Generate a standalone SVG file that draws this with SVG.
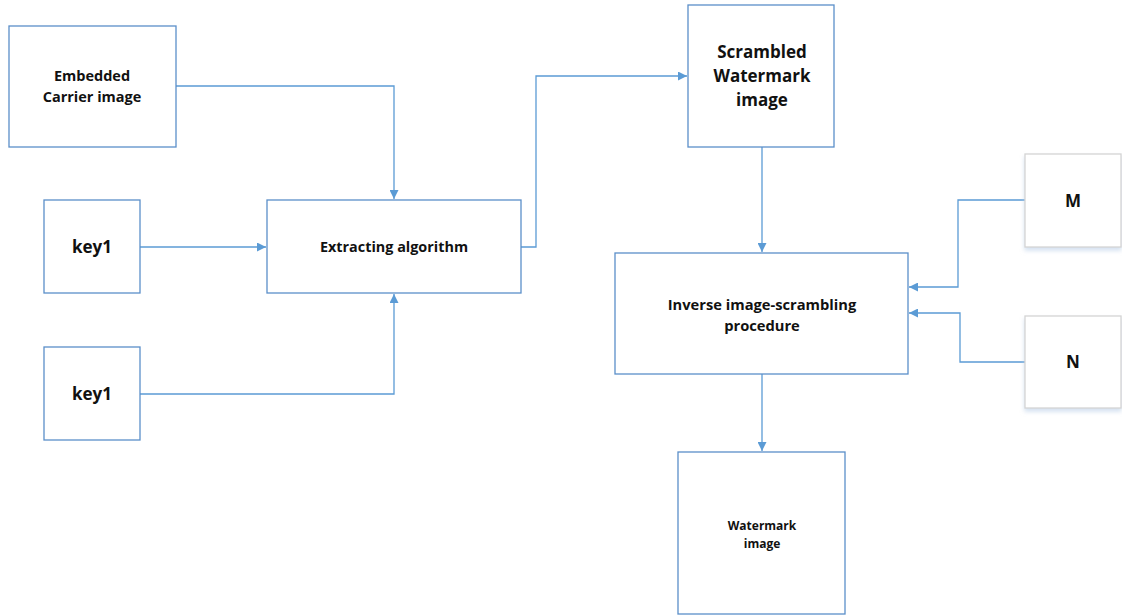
<svg xmlns="http://www.w3.org/2000/svg" width="1122" height="616" viewBox="0 0 1122 616">
<defs>
<style>
.box{fill:#fff;stroke:#5b8fc9;stroke-width:1.3}
.gbox{fill:#fff;stroke:#d4d4d4;stroke-width:1.3}
.t{font-family:"Open Sans","Liberation Sans",sans-serif;font-weight:bold;fill:#111;text-anchor:middle}
.c{fill:none;stroke:#5b9bd5;stroke-width:1.3}
</style>
<marker id="a" viewBox="0 0 10 10" refX="10" refY="5" markerWidth="9" markerHeight="9" markerUnits="userSpaceOnUse" orient="auto">
<path d="M0,0 L10,5 L0,10 Z" fill="#5b9bd5"/>
</marker>
<filter id="sh" x="-10%" y="-10%" width="130%" height="130%">
<feDropShadow dx="0" dy="3" stdDeviation="2" flood-color="#b8cde6" flood-opacity="0.6"/>
</filter>
</defs>
<g id="connectors">
<path class="c" d="M176,86 H394 V199" marker-end="url(#a)"/>
<path class="c" d="M140,247 H266" marker-end="url(#a)"/>
<path class="c" d="M140,394 H394 V294" marker-end="url(#a)"/>
<path class="c" d="M521,247 H536 V76 H687" marker-end="url(#a)"/>
<path class="c" d="M762,147 V252" marker-end="url(#a)"/>
<path class="c" d="M1025,200 H958 V287 H909" marker-end="url(#a)"/>
<path class="c" d="M1025,362 H960 V313 H909" marker-end="url(#a)"/>
<path class="c" d="M762,374 V451" marker-end="url(#a)"/>
</g>
<g id="embedded">
<rect class="box" x="9" y="26" width="167" height="121"/>
<text class="t" font-size="14.5" x="92" y="81">Embedded</text>
<text class="t" font-size="14.5" x="92" y="102">Carrier image</text>
</g>
<g id="key1a">
<rect class="box" x="44" y="200" width="96" height="93"/>
<text class="t" font-size="17" x="92" y="253">key1</text>
</g>
<g id="key1b">
<rect class="box" x="44" y="347" width="96" height="93"/>
<text class="t" font-size="17" x="92" y="400">key1</text>
</g>
<g id="extracting">
<rect class="box" x="267" y="200" width="254" height="93"/>
<text class="t" font-size="14.4" x="394" y="252">Extracting algorithm</text>
</g>
<g id="scrambled">
<rect class="box" x="688" y="5" width="146" height="142"/>
<text class="t" font-size="17" x="762" y="58">Scrambled</text>
<text class="t" font-size="17" x="762" y="82">Watermark</text>
<text class="t" font-size="17" x="762" y="106">image</text>
</g>
<g id="inverse">
<rect class="box" x="615" y="253" width="293" height="121"/>
<text class="t" font-size="14.7" x="762" y="310">Inverse image-scrambling</text>
<text class="t" font-size="14.7" x="762" y="331">procedure</text>
</g>
<g id="M">
<rect class="gbox" x="1025" y="154" width="96" height="93" filter="url(#sh)"/>
<text class="t" font-size="17" x="1073" y="207">M</text>
</g>
<g id="N">
<rect class="gbox" x="1025" y="316" width="96" height="92" filter="url(#sh)"/>
<text class="t" font-size="17" x="1073" y="368">N</text>
</g>
<g id="watermark">
<rect class="box" x="678" y="452" width="167" height="162"/>
<text class="t" font-size="12" x="762" y="530">Watermark</text>
<text class="t" font-size="12" x="762" y="548">image</text>
</g>
</svg>
